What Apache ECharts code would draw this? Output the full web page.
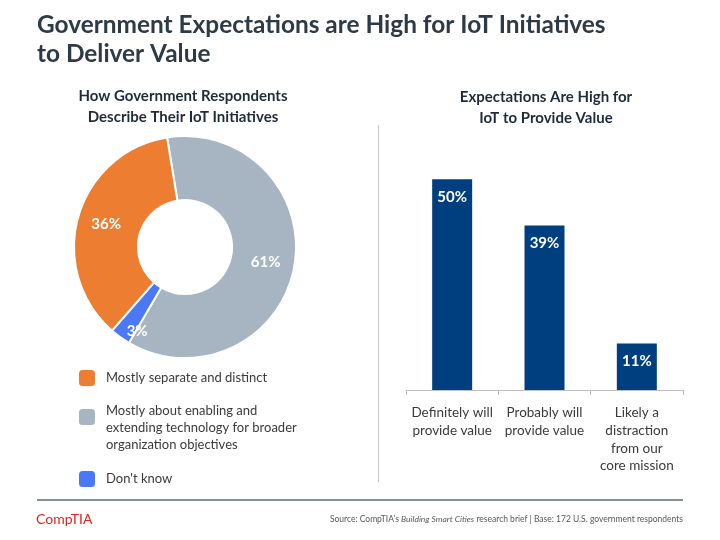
<!DOCTYPE html>
<html>
<head>
<meta charset="utf-8">
<script src="https://cdn.jsdelivr.net/npm/echarts@6/dist/echarts.min.js"></script>
<style>
html,body{margin:0;padding:0;background:#fff;}
#chart{width:720px;height:540px;}
</style>
</head>
<body>
<div id="chart"></div>
<script>
// ---- data ----
const mainTitle = 'Government Expectations are High for IoT Initiatives\nto Deliver Value';
const pieTitle = 'How Government Respondents\nDescribe Their IoT Initiatives';
const barTitle = 'Expectations Are High for\nIoT to Provide Value';
const pieCategories = [
  'Mostly separate and distinct',
  'Mostly about enabling and\nextending technology for broader\norganization objectives',
  "Don't know"
];
const pieValues = [36, 61, 3];
const pieColors = ['#ED7D31', '#A7B4C2', '#4A78F6'];
const barCategories = [
  'Definitely will\nprovide value',
  'Probably will\nprovide value',
  'Likely a\ndistraction\nfrom our\ncore mission'
];
const barValues = [50, 39, 11];
const sourceText = 'Source: CompTIA’s {i|Building Smart Cities} research brief | Base: 172 U.S. government respondents';

const FONT = 'Lato';
const chart = echarts.init(document.getElementById('chart'), null, {renderer: 'canvas'});

// Pie drawn clockwise: gray, blue, orange
const pieOrder = [1, 2, 0];
const pieData = pieOrder.map(i => ({
  name: pieCategories[i],
  value: pieValues[i],
  itemStyle: {color: pieColors[i]}
}));

const legendBase = {
  orient: 'vertical', left: 77, padding: 0,
  itemWidth: 18, itemHeight: 18, icon: 'roundRect',
  selectedMode: false
};

const option = {
  backgroundColor: '#ffffff',
  animation: false,
  legend: [
    Object.assign({}, legendBase, {
      data: [pieCategories[0]], top: 368,
      textStyle: {fontFamily: FONT, fontSize: 13, color: '#3a3a3a', padding: [0, 0, 0, 5]}
    }),
    Object.assign({}, legendBase, {
      data: [pieCategories[1]], top: 380.5,
      formatter: function (name) {
        return '{g| }\n' + name.split('\n').map(s => '{t|' + s + '}').join('\n');
      },
      textStyle: {
        fontFamily: FONT, fontSize: 13, color: '#3a3a3a', padding: [0, 0, 0, 5],
        rich: {
          g: {lineHeight: 22, height: 22, fontSize: 13},
          t: {fontFamily: FONT, fontSize: 13, lineHeight: 17, color: '#3a3a3a'}
        }
      }
    }),
    Object.assign({}, legendBase, {
      data: [pieCategories[2]], top: 469,
      textStyle: {fontFamily: FONT, fontSize: 13, color: '#3a3a3a', padding: [0, 0, 0, 5]}
    })
  ],
  grid: {left: 406, right: 37, top: 137, bottom: 150, containLabel: false},
  xAxis: {
    type: 'category', data: barCategories,
    axisLine: {lineStyle: {color: '#bfbfbf', width: 1}},
    axisTick: {show: true, length: 5, lineStyle: {color: '#bfbfbf'}},
    axisLabel: {fontFamily: FONT, fontSize: 13.5, lineHeight: 17.7, color: '#3a3a3a', margin: 14, interval: 0}
  },
  yAxis: {type: 'value', min: 0, max: 60, show: false, splitLine: {show: false}},
  series: [
    {
      type: 'pie',
      center: [185, 247],
      radius: [47, 111],
      startAngle: 99.3,
      clockwise: true,
      avoidLabelOverlap: false,
      itemStyle: {borderColor: '#ffffff', borderWidth: 2},
      label: {
        show: true, position: 'inside',
        formatter: '{c}%',
        fontFamily: FONT, fontSize: 15, fontWeight: 'bold', color: '#ffffff'
      },
      labelLine: {show: false},
      labelLayout: function (p) {
        if (p.dataIndex === 1) return {dx: 0, dy: 18};
        return {};
      },
      data: pieData
    },
    {
      type: 'bar',
      data: barValues,
      barWidth: 40,
      itemStyle: {color: '#003F7F'},
      label: {
        show: true, position: 'insideTop', distance: 10,
        formatter: '{c}%',
        fontFamily: FONT, fontSize: 15, fontWeight: 'bold', color: '#ffffff'
      }
    }
  ],
  graphic: [
    {type: 'text', x: 37, y: 11, style: {text: mainTitle, font: 'bold 24.4px ' + FONT, fill: '#2e3a46', lineHeight: 29}},
    {type: 'text', x: 183, y: 107, style: {text: pieTitle, font: 'bold 15px ' + FONT, fill: '#1f2b38', lineHeight: 21, textAlign: 'center', textVerticalAlign: 'middle'}},
    {type: 'text', x: 546, y: 108, style: {text: barTitle, font: 'bold 15px ' + FONT, fill: '#1f2b38', lineHeight: 21, textAlign: 'center', textVerticalAlign: 'middle'}},
    {type: 'line', shape: {x1: 378.5, y1: 125, x2: 378.5, y2: 482}, style: {stroke: '#c8c8c8', lineWidth: 1}},
    {type: 'line', shape: {x1: 37, y1: 500, x2: 683, y2: 500}, style: {stroke: '#5f6b74', lineWidth: 1.5}},
    {type: 'text', x: 36, y: 519, style: {text: 'CompTIA', font: '14px ' + FONT, fill: '#e2231a', textVerticalAlign: 'middle'}},
    {type: 'text', x: 683, y: 519, style: {
      text: sourceText, font: '8.5px ' + FONT, fill: '#595959', textAlign: 'right', textVerticalAlign: 'middle',
      rich: {i: {fontStyle: 'italic', fontSize: 8.5, fontFamily: FONT, fill: '#595959'}}
    }}
  ]
};
chart.setOption(option);
</script>
</body>
</html>
